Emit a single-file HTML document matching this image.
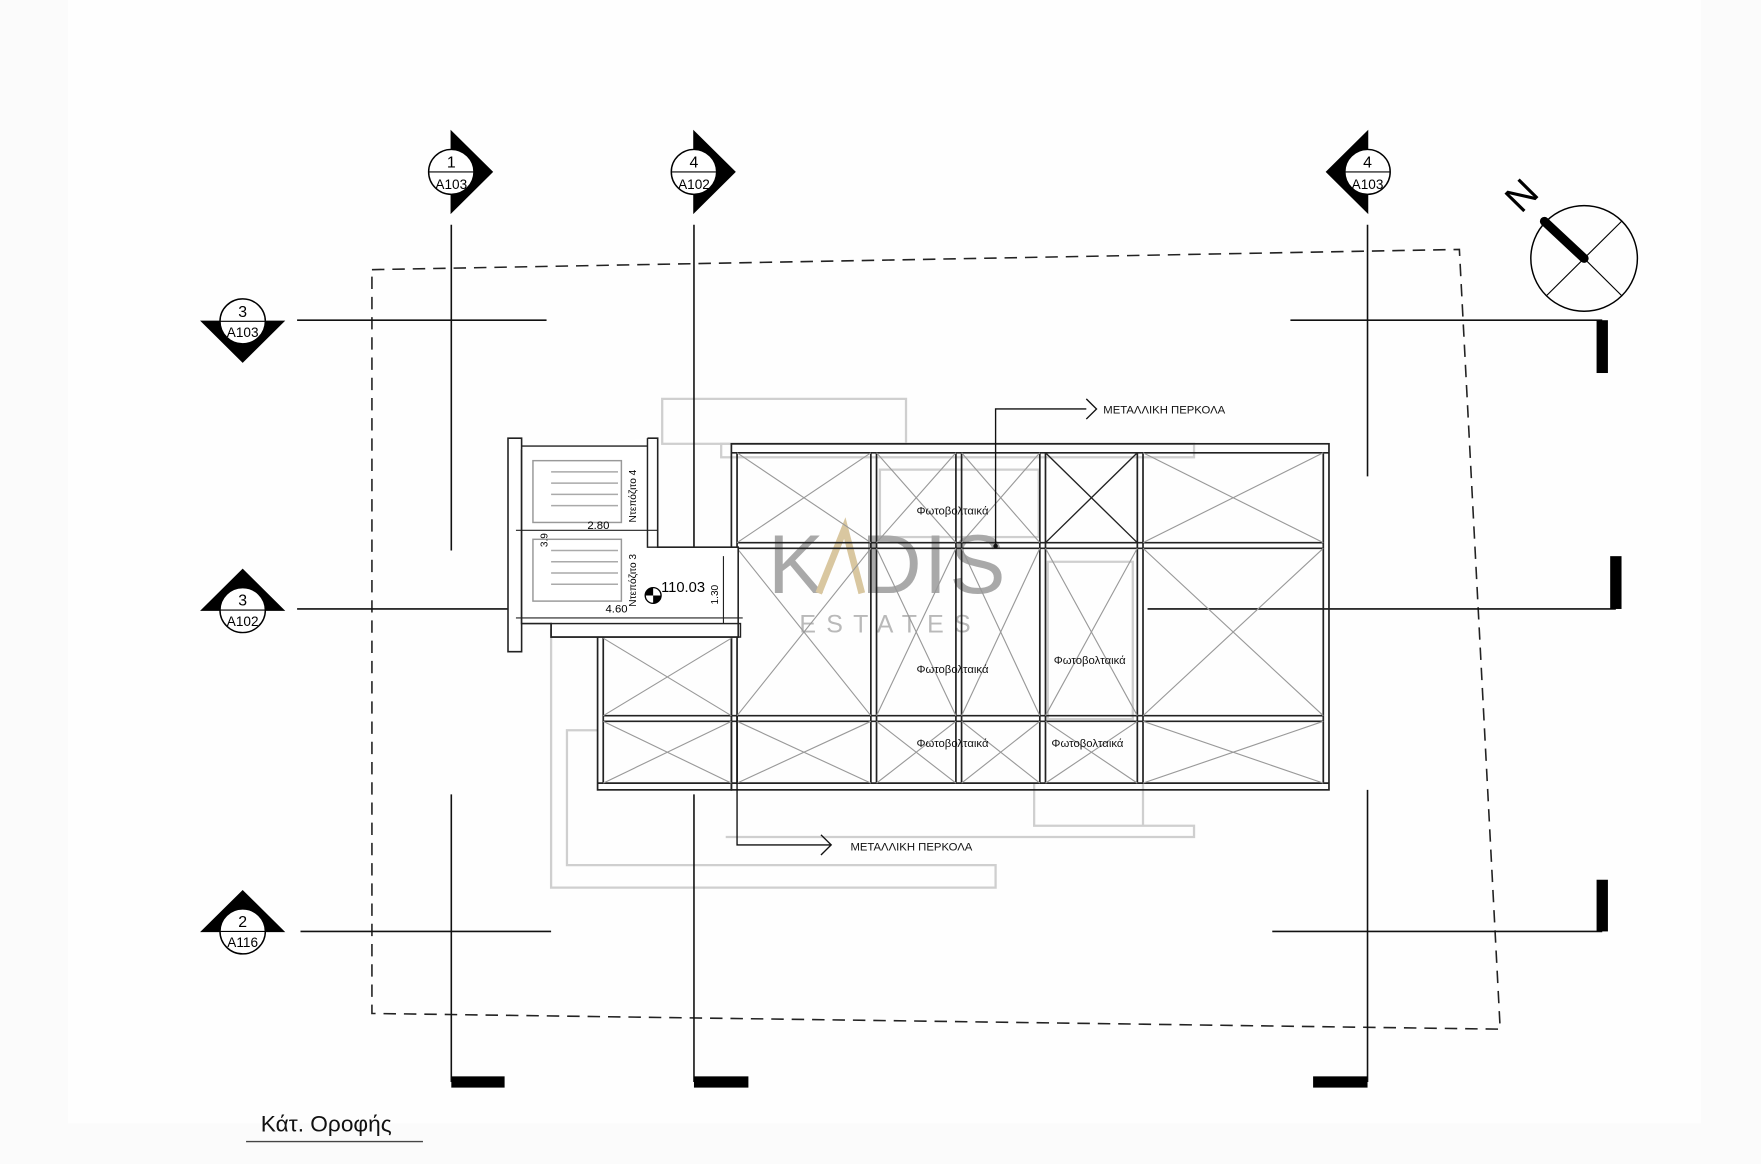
<!DOCTYPE html>
<html><head><meta charset="utf-8"><style>
html,body{margin:0;padding:0;background:#fff}
svg{display:block}
text{font-family:"Liberation Sans",sans-serif}
</style></head><body>
<svg width="1761" height="1164" viewBox="0 0 1553 1036" preserveAspectRatio="none" xmlns="http://www.w3.org/2000/svg">
<rect width="1553" height="1036" fill="#ffffff"/>
<path d="M0 0H1553V1036H0Z" fill="#fbfbfb"/>
<rect x="60" y="0" width="1440" height="1000" fill="#fefefe"/>
<!-- faint grey background lines -->
<g stroke="#cfcfcf" stroke-width="2" fill="none">
<rect x="584" y="355" width="215" height="40"/>
<rect x="636" y="395" width="417" height="12"/>
<path d="M486 560V790H878V770H500V650H527"/>
<path d="M912 697V735H1053V745H640"/>
<path d="M1008 697V735"/>
<rect x="776" y="418" width="140" height="60"/>
<rect x="924" y="500" width="75" height="140"/>
</g>
<!-- dashed boundary -->
<polygon points="328,240 1287,222 1323,916 328,902" fill="none" stroke="#222" stroke-width="1.4" stroke-dasharray="11,7"/>
<!-- grid lines -->
<g stroke="#111" stroke-width="1.4">
<line x1="398" y1="200" x2="398" y2="490"/><line x1="398" y1="707" x2="398" y2="963"/>
<line x1="612" y1="200" x2="612" y2="487"/><line x1="612" y1="707" x2="612" y2="963"/>
<line x1="1206" y1="200" x2="1206" y2="424"/><line x1="1206" y1="703" x2="1206" y2="963"/>
<line x1="262" y1="285" x2="482" y2="285"/><line x1="1138" y1="285" x2="1413" y2="285"/>
<line x1="262" y1="542" x2="457" y2="542"/><line x1="1012" y1="542" x2="1425" y2="542"/>
<line x1="265" y1="829" x2="486" y2="829"/><line x1="1122" y1="829" x2="1413" y2="829"/>
</g>
<g fill="#000">
<rect x="398" y="958" width="47" height="10"/><rect x="612" y="958" width="48" height="10"/><rect x="1158" y="958" width="48" height="10"/>
<rect x="1408" y="285" width="10" height="47"/><rect x="1420" y="495" width="10" height="47"/><rect x="1408" y="783" width="10" height="46"/>
</g>
<!-- section markers -->
<g stroke="#000" stroke-width="1.3" fill="#fff" font-size="13">
<polygon points="398,117 434,153 398,189" fill="#000"/><circle cx="398" cy="153" r="20"/>
<polygon points="612,117 648,153 612,189" fill="#000"/><circle cx="612" cy="153" r="20"/>
<polygon points="1206,117 1170,153 1206,189" fill="#000"/><circle cx="1206" cy="153" r="20"/>
<polygon points="178,286 214,322 250,286" fill="#000"/><circle cx="214" cy="286" r="20"/>
<polygon points="178,543 214,507 250,543" fill="#000"/><circle cx="214" cy="543" r="20"/>
<polygon points="178,829 214,793 250,829" fill="#000"/><circle cx="214" cy="829" r="20"/>
</g>
<g stroke="#000" stroke-width="1">
<line x1="378" y1="153" x2="418" y2="153"/><line x1="592" y1="153" x2="632" y2="153"/><line x1="1186" y1="153" x2="1226" y2="153"/>
<line x1="194" y1="286" x2="234" y2="286"/><line x1="194" y1="543" x2="234" y2="543"/><line x1="194" y1="829" x2="234" y2="829"/>
</g>
<g font-size="14" text-anchor="middle" fill="#000">
<text x="398" y="149">1</text><text x="398" y="168" font-size="12">A103</text>
<text x="612" y="149">4</text><text x="612" y="168" font-size="12">A102</text>
<text x="1206" y="149">4</text><text x="1206" y="168" font-size="12">A103</text>
<text x="214" y="282">3</text><text x="214" y="300" font-size="12">A103</text>
<text x="214" y="539">3</text><text x="214" y="557" font-size="12">A102</text>
<text x="214" y="825">2</text><text x="214" y="843" font-size="12">A116</text>
</g>
<!-- north -->
<circle cx="1397" cy="230" r="47" fill="none" stroke="#000" stroke-width="1.3"/>
<line x1="1364" y1="197" x2="1430" y2="263" stroke="#000" stroke-width="1"/>
<line x1="1430" y1="197" x2="1364" y2="263" stroke="#000" stroke-width="1"/>
<line x1="1362" y1="197" x2="1397" y2="230" stroke="#000" stroke-width="8" stroke-linecap="round"/>
<text x="1343" y="185" font-size="34" transform="rotate(-45 1343 175)" text-anchor="middle">N</text>
<!-- watermark -->
<text x="783" y="528" font-size="74" fill="#a9a9a9" text-anchor="middle" letter-spacing="2">K&#8202; DIS</text>
<path d="M722 528L745 470L760 528" stroke="#d9c7a0" stroke-width="6" fill="none"/>
<text x="785" y="563" font-size="22" fill="#b9b9b9" text-anchor="middle" letter-spacing="9">ESTATES</text>
<!-- pergola frame -->
<g fill="none" stroke="#222" stroke-width="1.5">
<rect x="645" y="395" width="527" height="308"/>
<rect x="527" y="565" width="118" height="138"/>
<line x1="645" y1="403" x2="1172" y2="403"/>
<line x1="527" y1="697" x2="1172" y2="697"/>
<g id="cols">
<line x1="650" y1="403" x2="650" y2="697"/><line x1="768" y1="403" x2="768" y2="697"/><line x1="773" y1="403" x2="773" y2="697"/>
<line x1="843" y1="403" x2="843" y2="697"/><line x1="848" y1="403" x2="848" y2="697"/><line x1="917" y1="403" x2="917" y2="697"/>
<line x1="922" y1="403" x2="922" y2="697"/><line x1="1003" y1="403" x2="1003" y2="697"/><line x1="1008" y1="403" x2="1008" y2="697"/>
<line x1="1167" y1="403" x2="1167" y2="697"/><line x1="532" y1="565" x2="532" y2="697"/>
</g>
<line x1="650" y1="483" x2="1167" y2="483"/><line x1="650" y1="488" x2="1167" y2="488"/>
<line x1="532" y1="637" x2="1167" y2="637"/><line x1="532" y1="642" x2="1167" y2="642"/>
</g>
<g stroke="#999" stroke-width="1">
<path d="M650 403L768 483M768 403L650 483M773 403L843 483M843 403L773 483M848 403L917 483M917 403L848 483M1008 403L1167 483M1167 403L1008 483"/>
<path d="M650 488L768 637M768 488L650 637M773 488L843 637M843 488L773 637M848 488L917 637M917 488L848 637M922 488L1003 637M1003 488L922 637M1008 488L1167 637M1167 488L1008 637"/>
<path d="M650 642L768 697M768 642L650 697M773 642L843 697M843 642L773 697M848 642L917 697M917 642L848 697M922 642L1003 697M1003 642L922 697M1008 642L1167 697M1167 642L1008 697"/>
<path d="M532 568L645 637M645 568L532 637M532 642L645 697M645 642L532 697"/>
</g>
<path d="M922 403L1003 483M1003 403L922 483" stroke="#222" stroke-width="1.2"/>
<g font-size="10" fill="#111" text-anchor="middle">
<text x="840" y="458">Φωτοβολταικά</text><text x="840" y="599">Φωτοβολταικά</text><text x="961" y="591">Φωτοβολταικά</text>
<text x="840" y="665">Φωτοβολταικά</text><text x="959" y="665">Φωτοβολταικά</text>
</g>
<!-- leaders -->
<g stroke="#111" stroke-width="1.2" fill="none">
<path d="M878 486V364H958"/><path d="M958 355L967 364L958 373"/>
<path d="M650 637V752H733"/><path d="M724 743L733 752L724 761"/>
</g>
<circle cx="878" cy="486" r="2" fill="#111"/>
<g font-size="10" fill="#111"><text x="973" y="368">ΜΕΤΑΛΛΙΚΗ ΠΕΡΚΟΛΑ</text><text x="750" y="757">ΜΕΤΑΛΛΙΚΗ ΠΕΡΚΟΛΑ</text></g>
<!-- stair block -->
<g fill="#fff" stroke="#222" stroke-width="1.4">
<path d="M448 390H460V580H448Z"/>
<path d="M571 390H580V487H651V567H486V555H460V400"/>
</g>
<g stroke="#222" stroke-width="1.3" fill="none">
<path d="M460 397H571"/><path d="M571 390V487H650"/>
<rect x="486" y="555" width="167" height="12"/>
<rect x="470" y="410" width="78" height="55" stroke="#999"/>
<rect x="470" y="480" width="78" height="55" stroke="#999"/>
<path d="M486 420H545M486 430H545M486 440H545M486 450H545M486 490H545M486 500H545M486 510H545M486 520H545" stroke="#aaa"/>
<path d="M455 472H580M455 550H655M638 495V555" stroke-width="1"/>
</g>
<text x="0" y="0" font-size="9" transform="translate(561 465) rotate(-90)">Ντεπόζιτο 4</text>
<text x="0" y="0" font-size="9" transform="translate(561 540) rotate(-90)">Ντεπόζιτο 3</text>
<text x="518" y="471" font-size="10">2.80</text><text x="534" y="545" font-size="10">4.60</text>
<text x="483" y="487" font-size="9" transform="rotate(-90 483 487)">3.9</text>
<text x="633" y="538" font-size="9" transform="rotate(-90 633 538)">1.30</text>
<circle cx="576" cy="530" r="7" fill="#fff" stroke="#000" stroke-width="1.2"/>
<path d="M576 530V523A7 7 0 0 0 569 530ZM576 530V537A7 7 0 0 0 583 530Z" fill="#000"/>
<text x="583" y="527" font-size="13">110.03</text>
<!-- title -->
<text x="230" y="1007" font-size="20" fill="#111">Κάτ. Οροφής</text>
<line x1="217" y1="1016" x2="373" y2="1016" stroke="#444" stroke-width="1.2"/>
</svg>
</body></html>
